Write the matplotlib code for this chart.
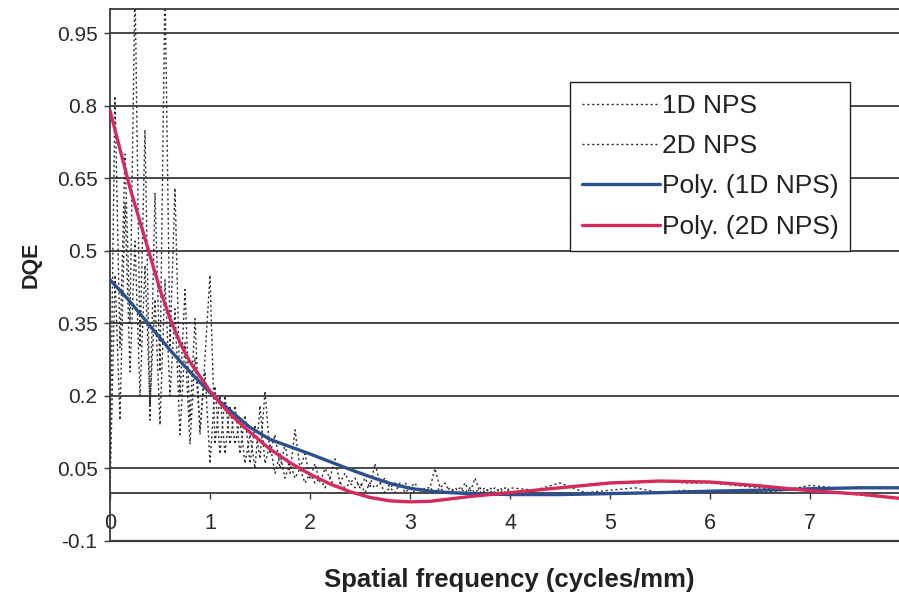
import matplotlib
matplotlib.use("Agg")
import matplotlib.pyplot as plt

plt.rcParams['font.family'] = ['Liberation Sans', 'DejaVu Sans']

# ---------------- data ----------------
freq = [0.00, 0.05, 0.10, 0.15, 0.20, 0.25, 0.30, 0.35, 0.40, 0.45,
        0.50, 0.55, 0.60, 0.65, 0.70, 0.75, 0.80, 0.85, 0.90, 0.95,
        1.00, 1.05, 1.10, 1.15, 1.20, 1.25, 1.30, 1.35, 1.40, 1.45,
        1.50, 1.55, 1.60, 1.65, 1.70, 1.75, 1.80, 1.85, 1.90, 1.95,
        2.00, 2.05, 2.10, 2.15, 2.20, 2.25, 2.30, 2.35, 2.40, 2.45,
        2.50, 2.55, 2.60, 2.65, 2.70, 2.75, 2.80, 2.85, 2.90, 2.95,
        3.00, 3.05, 3.10, 3.15, 3.20, 3.25, 3.30, 3.35, 3.40, 3.45,
        3.50, 3.55, 3.60, 3.65, 3.70, 3.75, 3.80, 3.85, 3.90, 3.95,
        4.00, 4.25, 4.50, 4.75, 5.00, 5.25, 5.50, 5.75, 6.00, 6.25,
        6.50, 6.75, 7.00, 7.25, 7.50, 7.75]

dqe_1d = [0.00, 0.45, 0.15, 0.60, 0.25, 0.52, 0.20, 0.47, 0.18, 0.40,
          0.14, 0.44, 0.20, 0.38, 0.12, 0.31, 0.10, 0.28, 0.13, 0.25,
          0.06, 0.22, 0.08, 0.20, 0.10, 0.18, 0.08, 0.16, 0.06, 0.14,
          0.07, 0.21, 0.08, 0.12, 0.05, 0.10, 0.04, 0.13, 0.05, 0.08,
          0.03, 0.06, 0.02, 0.05, 0.03, 0.07, 0.02, 0.04, 0.02, 0.03,
          0.01, 0.03, 0.01, 0.06, 0.02, 0.03, 0.01, 0.02, 0.01, 0.02,
          0.01, 0.02, 0.00, 0.01, 0.01, 0.05, 0.01, 0.02, 0.00, 0.01,
          0.00, 0.02, 0.00, 0.03, 0.00, 0.01, 0.00, 0.01, 0.00, 0.01,
          0.00, 0.005, 0.02, 0.00, 0.005, 0.01, 0.00, 0.005, 0.00, 0.005,
          0.00, 0.005, 0.015, 0.01, 0.01, 0.01]

dqe_2d = [0.05, 0.82, 0.30, 0.70, 0.35, 1.05, 0.30, 0.75, 0.15, 0.62,
          0.25, 1.05, 0.30, 0.63, 0.20, 0.42, 0.15, 0.36, 0.12, 0.28,
          0.45, 0.10, 0.20, 0.08, 0.18, 0.10, 0.15, 0.06, 0.12, 0.05,
          0.18, 0.06, 0.10, 0.04, 0.08, 0.03, 0.06, 0.03, 0.05, 0.02,
          0.04, 0.02, 0.03, 0.01, 0.03, 0.01, 0.02, 0.01, 0.02, 0.01,
          0.02, 0.00, 0.02, 0.01, 0.02, 0.00, 0.01, 0.00, 0.02, 0.00,
          0.01, 0.00, 0.01, 0.00, 0.01, 0.00, 0.01, 0.00, 0.01, 0.00,
          0.01, 0.00, 0.01, 0.00, 0.01, 0.00, 0.01, 0.00, 0.01, 0.00,
          0.01, 0.005, 0.01, 0.015, 0.02, 0.02, 0.025, 0.02, 0.02, 0.015,
          0.01, 0.005, 0.005, 0.00, -0.005, -0.01]

fit_x = [0.0, 0.1, 0.2, 0.3, 0.4, 0.5, 0.6, 0.7, 0.8, 0.9,
         1.0, 1.1, 1.2, 1.4, 1.6, 1.8, 2.0, 2.2, 2.4, 2.6,
         2.8, 3.0, 3.2, 3.4, 3.6, 3.8, 4.0, 4.5, 5.0, 5.5,
         6.0, 6.5, 7.0, 7.5, 7.9]

fit_1d = [0.440, 0.418, 0.395, 0.370, 0.345, 0.320, 0.295, 0.272, 0.250, 0.228,
          0.207, 0.188, 0.170, 0.135, 0.110, 0.095, 0.080, 0.064, 0.048, 0.033,
          0.019, 0.009, 0.003, 0.000, -0.002, -0.003, -0.004, -0.004, -0.002, 0.000,
          0.003, 0.005, 0.008, 0.010, 0.010]

fit_2d = [0.790, 0.710, 0.630, 0.560, 0.490, 0.420, 0.360, 0.310, 0.270, 0.240,
          0.210, 0.185, 0.162, 0.125, 0.090, 0.062, 0.038, 0.018, 0.002, -0.010,
          -0.017, -0.019, -0.018, -0.013, -0.008, -0.004, 0.000, 0.010, 0.020, 0.024,
          0.022, 0.014, 0.004, -0.003, -0.012]

yticks = [-0.1, 0.05, 0.2, 0.35, 0.5, 0.65, 0.8, 0.95]
ytick_labels = ['-0.1', '0.05', '0.2', '0.35', '0.5', '0.65', '0.8', '0.95']
xticks = [0, 1, 2, 3, 4, 5, 6, 7]

# ---------------- figure ----------------
W, H = 899, 597
fig = plt.figure(figsize=(W / 100, H / 100), dpi=100)
ax = fig.add_axes([110 / W, 56 / H, 789 / W, 532 / H])

grid_col = '#3a3a3a'
ax.set_xlim(0, 7.89)
ax.set_ylim(-0.1, 1.0)

ax.set_yticks(yticks)
ax.set_yticklabels(ytick_labels)
ax.set_xticks(xticks)
ax.set_xticklabels([str(t) for t in xticks])

ax.yaxis.grid(True, color=grid_col, linewidth=1.3)
ax.set_axisbelow(True)

ax.spines['right'].set_visible(False)
ax.spines['top'].set_color(grid_col)
ax.spines['top'].set_linewidth(1.3)
ax.spines['left'].set_color(grid_col)
ax.spines['left'].set_linewidth(1.3)
ax.spines['bottom'].set_position(('data', 0))
ax.spines['bottom'].set_color(grid_col)
ax.spines['bottom'].set_linewidth(1.3)
ax.axhline(-0.1, color=grid_col, linewidth=1.6, clip_on=False, zorder=1)

ax.tick_params(axis='y', direction='out', length=4, width=1, color=grid_col,
               labelsize=15, labelcolor='#2a2a2a', pad=5)
ax.tick_params(axis='x', direction='out', length=4, width=1, color=grid_col,
               labelsize=15.5, labelcolor='#2a2a2a', pad=11)

raw_col = '#2b2b2b'
ax.plot(freq, dqe_1d, color=raw_col, linewidth=1.0, dashes=(1.5, 2.0),
        label='1D NPS', zorder=2)
ax.plot(freq, dqe_2d, color=raw_col, linewidth=1.0, dashes=(1.5, 2.0),
        label='2D NPS', zorder=2)
ax.plot(fit_x, fit_1d, color='#2c4f8e', linewidth=2.4, label='Poly. (1D NPS)',
        zorder=3, solid_capstyle='round')
ax.plot(fit_x, fit_2d, color='#d62a5c', linewidth=2.4, label='Poly. (2D NPS)',
        zorder=4, solid_capstyle='round')

leg = ax.legend(loc='upper left', bbox_to_anchor=(0.583, 0.863),
                fontsize=19, frameon=True, fancybox=False, framealpha=1,
                edgecolor='#222222', handlelength=2.95, handletextpad=0.08,
                labelspacing=0.62, borderpad=0.45, borderaxespad=0)
leg.get_frame().set_linewidth(1.0)
for t in leg.get_texts():
    t.set_color('#222222')

fig.text(509 / W, 1 - 580 / H, 'Spatial frequency (cycles/mm)', ha='center',
         va='center', fontsize=18.5, fontweight='bold', color='#222222')
fig.text(31 / W, 1 - 265 / H, 'DQE', ha='center', va='center', rotation=90,
         fontsize=15.5, fontweight='bold', color='#222222')

fig.savefig('out.png', dpi=100)
